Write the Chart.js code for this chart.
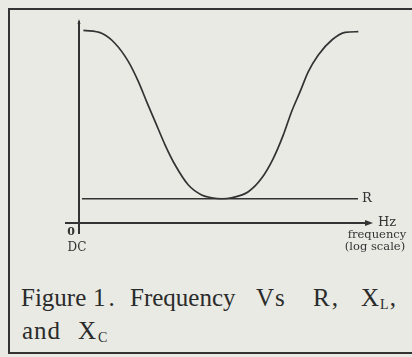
<!DOCTYPE html>
<html>
<head>
<meta charset="utf-8">
<script src="https://cdn.jsdelivr.net/npm/chart.js@4.4.0/dist/chart.umd.min.js"></script>
<style>
  html, body { margin: 0; padding: 0; }
  body { width: 412px; height: 357px; background: #e8eae3; overflow: hidden; position: relative; }
  #wrap { position: absolute; left: 0; top: 0; width: 412px; height: 265px; }
  #frame { position: absolute; left: 8px; top: 8px; width: 600px; height: 342px;
           border-top: 2px solid #333; border-left: 2px solid #333; border-bottom: 2px solid #333;
           border-right: none; pointer-events: none; }
  .line { position: absolute; left: 0; height: 33px; width: 412px; font-family: "Liberation Serif", serif;
          font-size: 25px; line-height: 33px; color: #2b2b2b; white-space: nowrap; }
  .line span { position: absolute; top: 0; }
  .line sub { font-size: 14px; vertical-align: -3px; }
</style>
</head>
<body>
<div id="frame"></div>
<div id="wrap"><canvas id="fig"></canvas></div>
<div class="line" style="top:281px">
  <span style="left:21px">Figure</span>
  <span style="left:93px; letter-spacing:3px">1.</span>
  <span style="left:130px">Frequency</span>
  <span style="left:256px; letter-spacing:1px">Vs</span>
  <span style="left:313px; letter-spacing:2px">R,</span>
  <span style="left:361px; letter-spacing:1px">X<sub>L</sub>,</span>
</div>
<div class="line" style="top:314px">
  <span style="left:22px; letter-spacing:1px">and</span>
  <span style="left:78px; letter-spacing:2px">X<sub>C</sub></span>
</div>
<script>
// frequency position (0 = DC, 100 = arrow tip), arbitrary log-scale units
let freq = [1.5, 7.7, 12.2, 16.8, 20.2, 23.0, 25.9, 29.3, 32.7, 37.2, 41.7, 45.1, 48.6,
            51.9, 57.6, 62.1, 66.1, 69.5, 72.3, 75.2, 78.0, 81.4, 86.0, 90.5, 95.0];
// total reactance curve, % of axis height
let reactance = [95.4, 93.9, 89.0, 79.9, 70.0, 60.1, 50.2, 38.6, 28.7, 18.8, 13.9, 12.5, 12.0,
                 12.5, 15.5, 22.1, 32.0, 43.6, 55.1, 65.0, 74.9, 83.2, 90.6, 94.4, 94.7];
// resistance is flat
let rFreq = [1.0, 94.9];
let rLevel = 12;

const ink = '#333333';

const axesPlugin = {
    id: 'axes',
    afterDatasetsDraw(chart) {
        const ctx = chart.ctx;
        const xs = chart.scales.x, ys = chart.scales.y;
        const x0 = xs.getPixelForValue(0), y0 = ys.getPixelForValue(0);
        const xEnd = xs.getPixelForValue(100), yTop = ys.getPixelForValue(100);
        ctx.save();
        ctx.strokeStyle = ink;
        ctx.fillStyle = ink;
        ctx.lineWidth = 2;
        ctx.beginPath();
        ctx.moveTo(x0, y0 + 11);
        ctx.lineTo(x0, yTop);
        ctx.moveTo(x0 - 14, y0);
        ctx.lineTo(xEnd - 6, y0);
        ctx.stroke();
        // arrow on frequency axis
        ctx.beginPath();
        ctx.moveTo(xEnd, y0);
        ctx.lineTo(xEnd - 8, y0 - 3);
        ctx.lineTo(xEnd - 8, y0 + 3);
        ctx.closePath();
        ctx.fill();
        // little tip on the vertical axis
        ctx.beginPath();
        ctx.moveTo(x0, yTop - 2);
        ctx.lineTo(x0 - 1.5, yTop + 3);
        ctx.lineTo(x0 + 1.5, yTop + 3);
        ctx.closePath();
        ctx.fill();

        ctx.textBaseline = 'middle';
        ctx.font = '13px "DejaVu Serif", serif';
        ctx.textAlign = 'left';
        ctx.fillText('R', xs.getPixelForValue(rFreq[1]) + 4, ys.getPixelForValue(rLevel));
        ctx.fillText('Hz', xEnd + 5, y0);
        ctx.font = '11.5px "DejaVu Serif", serif';
        ctx.textAlign = 'center';
        ctx.fillText('frequency', xEnd + 4, y0 + 12);
        ctx.fillText('(log scale)', xEnd + 2, y0 + 24);
        ctx.font = 'bold 11px "DejaVu Serif", serif';
        ctx.fillText('0', x0 - 8, y0 + 9);
        ctx.font = '12px "DejaVu Serif", serif';
        ctx.fillText('DC', x0 - 2, y0 + 25);
        ctx.restore();
    }
};

const ctx = document.getElementById('fig').getContext('2d');
const fig = new Chart(ctx, {
    type: 'line',
    data: {
        datasets: [
            {
                label: 'X',
                data: freq.map((f, i) => ({x: f, y: reactance[i]})),
                borderColor: ink,
                borderWidth: 1.7,
                pointRadius: 0,
                fill: false,
                cubicInterpolationMode: 'monotone'
            },
            {
                label: 'R',
                data: rFreq.map(f => ({x: f, y: rLevel})),
                borderColor: ink,
                borderWidth: 1.3,
                pointRadius: 0,
                fill: false
            }
        ]
    },
    options: {
        responsive: true,
        maintainAspectRatio: false,
        animation: false,
        layout: {
            padding: {left: 79, right: 39, top: 21, bottom: 42}
        },
        scales: {
            x: {type: 'linear', min: 0, max: 100, display: false},
            y: {min: 0, max: 100, display: false}
        },
        plugins: {
            legend: {display: false},
            tooltip: {enabled: false}
        }
    },
    plugins: [axesPlugin]
});
</script>
</body>
</html>
